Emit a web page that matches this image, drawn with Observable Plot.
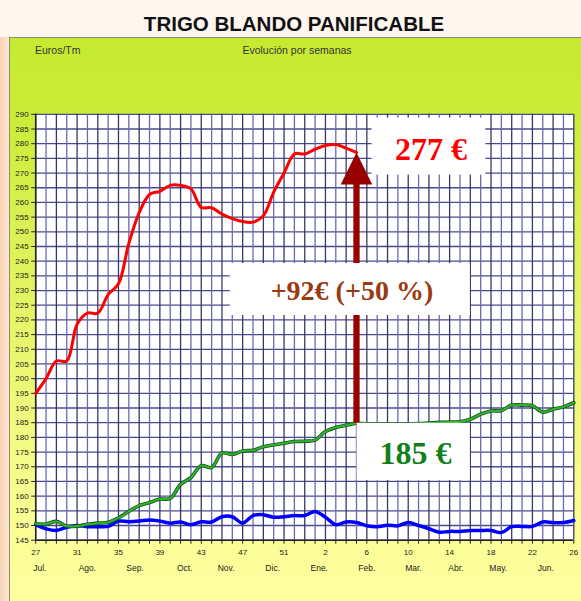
<!DOCTYPE html>
<html><head><meta charset="utf-8">
<script src="https://cdn.jsdelivr.net/npm/d3@7"></script>
<script src="https://cdn.jsdelivr.net/npm/@observablehq/plot@0.6"></script>
<style>
html,body{margin:0;padding:0;}
body{width:581px;height:601px;overflow:hidden;background:#fff6f0;position:relative;font-family:Arial,"Liberation Sans",sans-serif;}
#strip{position:absolute;left:0;top:37px;width:9px;height:564px;background:linear-gradient(to right,#f9d0b2,#fde7d6);}
#title{position:absolute;left:0;top:12px;width:588px;line-height:24px;text-align:center;font-weight:bold;font-size:20.5px;color:#111;}
#frame{position:absolute;left:9px;top:37px;width:572px;height:564px;box-sizing:border-box;border-left:1px solid #8a8a70;border-top:1px solid #8a8a70;
  background:linear-gradient(to bottom,#c6ea30 0%,#cbec38 14%,#d8f04e 30%,#e9f66e 55%,#f8fc8e 80%,#ffffa0 100%);}
#chart{position:absolute;left:9px;top:37px;}
.lab{position:absolute;top:44px;font-size:10.5px;line-height:12px;color:#333;}
</style></head>
<body>
<div id="strip"></div>
<div id="title">TRIGO BLANDO PANIFICABLE</div>
<div id="frame"></div>
<div class="lab" style="left:35px">Euros/Tm</div>
<div class="lab" style="left:197px;width:200px;text-align:center">Evolución por semanas</div>
<div id="chart"></div>
<script>
// ---- data ----
const weeks = [27,28,29,30,31,32,33,34,35,36,37,38,39,40,41,42,43,44,45,46,47,48,49,50,51,52,53,
               1,2,3,4,5,6,7,8,9,10,11,12,13,14,15,16,17,18,19,20,21,22,23,24,25,26];
const yTicks = [145,150,155,160,165,170,175,180,185,190,195,200,205,210,215,220,225,230,235,240,245,250,255,260,265,270,275,280,285,290];
const months = ["Jul.","Ago.","Sep.","Oct.","Nov.","Dic.","Ene.","Feb.","Mar.","Abr.","May.","Jun."];
const monthAt = [0.4,5.0,9.6,14.4,18.4,22.9,27.4,32,36.5,40.6,44.7,49.3];
// current season (red)
const red = [195,200,206,206,218.5,222.3,222.3,228.6,232.3,246,256.5,262.7,263.8,265.8,265.8,264.6,258.3,258.2,256,254.5,
             253.5,253.3,255.5,263.5,270,276.5,276.5,278.1,279.4,279.7,278.5,277];
// previous season (green)
const green = [150.6,150.5,151.4,149.8,149.8,150.4,150.8,151.1,152.6,154.8,156.8,157.8,159,159.2,164,166.3,170.4,169.7,174.7,174.2,
               175.4,175.6,176.8,177.5,178,178.6,178.7,179.1,182,183.4,184.1,184.8,184.6,184.6,184.6,184.6,184.6,184.7,184.9,185.1,
               185.2,185.3,186.2,187.9,189,189.1,191,191,190.8,188.6,189.6,190.4,191.8];
// earlier season (blue)
const blue = [150.3,148.9,148.3,149.4,150,149.6,149.6,149.7,151.5,151.3,151.5,151.9,151.5,150.8,151.2,150.3,151.3,151.2,153,153,
              150.8,153.4,153.7,152.8,153,153.4,153.4,154.8,152.8,150.3,151.2,151,149.9,149.6,150.1,149.9,151,150,148.9,147.7,
              148,148,148.3,148.3,148.3,147.6,149.6,149.7,149.7,151.2,151,151,151.7];

// ---- derived ----
const idx = weeks.map((w, i) => i);
const last = red.length - 1;
const cur = red[last], prev = green[last];
const diff = Math.round(cur) - Math.round(prev);
const pct = Math.round(100 * diff / Math.round(prev));
const arrow = [{x: last, top: cur, bottom: prev}];

// ---- annotation layout (data units) ----
const boxes = [
  {x1: 32.5, x2: 43.5, y1: 269.3, y2: 288.7},
  {x1: 18.8, x2: 42.0, y1: 221.5, y2: 239.2},
  {x1: 31.06, x2: 42.0, y1: 165.3, y2: 184.8}
];
const notes = [
  {x: 38.2, y: 278.1, text: `${Math.round(cur)} €`, color: "#ff0000", size: 32},
  {x: 30.56, y: 230.0, text: `+${diff}€ (+${pct} %)`, color: "#9a3a12", size: 28},
  {x: 36.7, y: 174.6, text: `${Math.round(prev)} €`, color: "#11801a", size: 32}
];

const headSymbol = {
  draw(ctx) {
    ctx.moveTo(0, 0);
    ctx.lineTo(15.75, 32);
    ctx.lineTo(-15.75, 32);
    ctx.closePath();
  }
};

const serif = "'Times New Roman','Liberation Serif',serif";

const chart = Plot.plot({
  width: 572, height: 564,
  marginLeft: 26.2, marginRight: 7.7, marginTop: 76.8, marginBottom: 61.3,
  style: {background: "transparent", fontFamily: "Arial,'Liberation Sans',sans-serif", fontSize: "8px", color: "#222"},
  x: {domain: [0, weeks.length - 1], ticks: idx, tickFormat: i => i % 4 === 0 ? String(weeks[i]) : "", tickSize: 4, tickPadding: 5, label: null},
  y: {domain: [145, 290], ticks: yTicks, tickSize: 4, tickPadding: 3, label: null},
  marks: [
    Plot.frame({fill: "white", stroke: null}),
    Plot.ruleY(yTicks, {stroke: "#4a4a8e", strokeWidth: 1.3}),
    Plot.ruleX(idx.filter(i => i % 2 === 0), {stroke: "#383866", strokeWidth: 1.3}),
    Plot.ruleX(idx.filter(i => i % 2 === 1), {stroke: "#6a6ab4", strokeWidth: 1.3}),
    Plot.ruleX([0], {stroke: "#222", strokeWidth: 1.5}),
    Plot.ruleY([145], {stroke: "#222", strokeWidth: 1.5}),
    Plot.line(idx, {x: i => i, y: i => blue[i], stroke: "#0000ff", strokeWidth: 3.5, curve: "catmull-rom"}),
    Plot.line(idx, {x: i => i, y: i => green[i], stroke: "#155515", strokeWidth: 3.6, curve: "catmull-rom"}),
    Plot.line(idx, {x: i => i, y: i => green[i], stroke: "#2fb52f", strokeWidth: 2, curve: "catmull-rom"}),
    Plot.line(idx.slice(0, red.length), {x: i => i, y: i => red[i], stroke: "#ff0000", strokeWidth: 3, curve: "catmull-rom"}),
    Plot.ruleX(arrow, {x: "x", y1: "top", y2: "bottom", stroke: "#990000", strokeWidth: 6.3, insetTop: 24}),
    Plot.dot(arrow, {x: "x", y: "top", symbol: headSymbol, fill: "#990000", stroke: null}),
    Plot.rect(boxes, {x1: "x1", x2: "x2", y1: "y1", y2: "y2", fill: "white"}),
    Plot.text(notes, {x: "x", y: "y", text: "text", fill: d => d.color, fontSize: d => d.size, fontWeight: "bold", fontFamily: serif}),
    Plot.text(months, {x: (d, i) => monthAt[i], frameAnchor: "bottom", dy: 31, text: d => d, fontSize: 8.5, fill: "#222"})
  ]
});
document.getElementById("chart").appendChild(chart);
</script>
</body></html>
